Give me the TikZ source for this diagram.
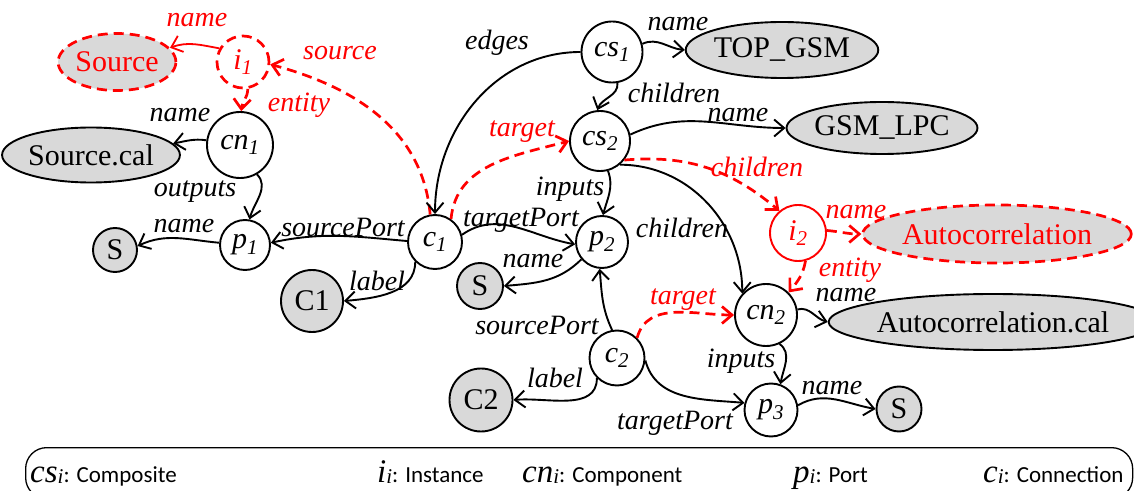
\documentclass[tikz,border=0pt]{standalone}
\usepackage{fontspec}
\setmainfont{Liberation Serif}
\newfontfamily\tnr{Liberation Serif}
\newfontfamily\legfont{Carlito}
\usetikzlibrary{arrows.meta,shapes.geometric}
\definecolor{gfill}{HTML}{D9D9D9}
\newcommand\legitem[2]{{\tnr\fontsize{33}{35}\selectfont\itshape #1}{\tnr\fontsize{21}{22}\selectfont\itshape\raisebox{-1pt}{i}}{\legfont\fontsize{23}{25}\selectfont: #2}}
\begin{document}
\begin{tikzpicture}[x=1pt,y=1pt,
  lbl/.style={font=\tnr\fontsize{28}{30}\selectfont\itshape, inner sep=0pt},
  rlbl/.style={lbl, text=red},
  circ/.style={circle, draw, line width=1.9pt, fill=white, inner sep=0pt, minimum size=#1, font=\tnr\fontsize{30}{32}\selectfont\itshape},
  gcirc/.style={circle, draw, line width=1.9pt, fill=gfill, inner sep=0pt, minimum size=#1, font=\tnr\fontsize{30}{32}\selectfont},
  gell/.style 2 args={ellipse, draw, line width=1.9pt, fill=gfill, inner sep=0pt, minimum width=#1, minimum height=#2, font=\tnr\fontsize{30}{32}\selectfont},
  reddash/.style={draw=red, text=red, line width=2.7pt, dash pattern=on 10pt off 6pt},
  blk/.style={line width=1.9pt, -{Straight Barb[length=10pt,width=17pt]}},
  rs/.style={line width=1.8pt, red, -{Straight Barb[length=10pt,width=17pt]}},
  rd/.style={line width=2.7pt, red, dash pattern=on 10pt off 6pt, -{Straight Barb[length=10pt,width=17pt]}},
]
\clip (0,0) rectangle (1134,490);
% legend
\node (legend) [draw, line width=1.3pt, rounded corners=21pt, minimum width=1107pt, minimum height=51pt, anchor=north west, inner sep=0pt] at (25,43) {};
\node (lg1) [anchor=base west, inner sep=0pt] at (30,8) {\legitem{cs}{Composite}};
\node (lg2) [anchor=base west, inner sep=0pt] at (377,8) {\legitem{i}{Instance}};
\node (lg3) [anchor=base west, inner sep=0pt] at (522,8) {\legitem{cn}{Component}};
\node (lg4) [anchor=base west, inner sep=0pt] at (793,8) {\legitem{p}{Port}};
\node (lg5) [anchor=base west, inner sep=0pt] at (983,8) {\legitem{c}{Connection}};

% nodes
\node (Source) [gell={115}{57}, reddash] at (117,428) {Source};
\node (i1) [circ=52, reddash] at (243,428) {i\textsubscript{1}};
\node (cn1) [circ=66] at (240,345) {cn\textsubscript{1}};
\node (Sourcecal) [gell={162}{55}] at (91,335) {Source.cal};
\node (p1) [circ=50] at (245,245) {p\textsubscript{1}};
\node (S1) [gcirc=44] at (115,240) {S};
\node (c1) [circ=54] at (435,248) {c\textsubscript{1}};
\node (C1) [gcirc=62] at (312,189) {C1};
\node (cs1) [circ=61] at (612,438) {cs\textsubscript{1}};
\node (TOPGSM) [gell={172}{56}] at (782,440) {TOP\_GSM};
\node (cs2) [circ=60] at (600,349) {cs\textsubscript{2}};
\node (GSMLPC) [gell={181}{52}] at (882,362) {GSM\_LPC};
\node (p2) [circ=52] at (602,248) {p\textsubscript{2}};
\node (S2) [gcirc=46] at (480,204) {S};
\node (i2) [circ=56, draw=red, text=red] at (798,257) {i\textsubscript{2}};
\node (Autocorr) [gell={231}{58}, reddash] at (997,256) {Autocorrelation};
\node (cn2) [circ=62] at (766,175) {cn\textsubscript{2}};
\node (Autocal) [gell={282}{56}] at (993,168) {Autocorrelation.cal};
\node (c2) [circ=55] at (617,132) {c\textsubscript{2}};
\node (C2) [gcirc=63] at (481,90) {C2};
\node (p3) [circ=53] at (771,80) {p\textsubscript{3}};
\node (S3) [gcirc=45] at (899,81) {S};

% edges
\draw[rs] (i1.150) to[out=170,in=20] (Source.15);
\draw[rd] (c1.100) to[out=95,in=-15] (i1.-5);
\draw[rd] (i1.-80) to[out=-90,in=85] (cn1.88);
\draw[blk] (cn1.172) to[out=172,in=10] (Sourcecal.8);
\draw[blk] (cn1.-60) to[out=-45,in=75] (p1.80);
\draw[blk] (p1.175) to[out=175,in=25] (S1.10);
\draw[blk] (c1.178) to[out=175,in=12] (p1.5);
\draw[blk] (c1.-135) to[out=-90,in=5] (C1.east);
\draw[blk] (cs1.180) to[out=180,in=90] (c1.90);
\draw[blk] (cs1.15) to[out=25,in=175] (TOPGSM.west);
\draw[blk] (cs1.-80) to[out=-85,in=70] (cs2.95);
\draw[rd] (c1.55) to[out=85,in=195] (cs2.180);
\draw[blk] (cs2.12) to[out=25,in=180] (GSMLPC.west);
\draw[rd] (cs2.-38) to[out=5,in=140] (i2.130);
\draw[blk] (cs2.-50) to[out=0,in=90] (cn2.138);
\draw[blk] (cs2.-75) to[out=-70,in=75] (p2.88);
\draw[blk] (c1.15) to[out=35,in=170] (p2.185);
\draw[blk] (p2.-140) to[out=-135,in=5] (S2.east);
\draw[blk] (c2.100) to[out=115,in=-85] (p2.-95);
\draw[rd] (c2.45) to[out=75,in=180] (cn2.west);
\draw[blk] (c2.-135) to[out=-90,in=5] (C2.east);
\draw[blk] (c2.-5) to[out=-75,in=175] (p3.165);
\draw[rd] (i2.5) to[out=-5,in=180] (Autocorr.west);
\draw[rd] (i2.-75) to[out=-100,in=50] (cn2.45);
\draw[blk] (cn2.10) to[out=15,in=165] (Autocal.west);
\draw[blk] (cn2.-65) to[out=-35,in=80] (p3.70);
\draw[blk] (p3.10) to[out=30,in=170] (S3.west);

% labels
\node (l1) [rlbl] at (197,470) {name};
\node (l2) [rlbl] at (340,437) {source};
\node (l3) [rlbl] at (299,385) {entity};
\node (l4) [lbl] at (180,375) {name};
\node (l5) [lbl] at (195,298) {outputs};
\node (l6) [lbl] at (184,264) {name};
\node (l7) [lbl] at (343,263) {sourcePort};
\node (l8) [lbl] at (377,209) {label};
\node (l9) [lbl] at (497,447) {edges};
\node (l10) [lbl] at (678,466) {name};
\node (l11) [lbl] at (674,397) {children};
\node (l12) [rlbl] at (522,358) {target};
\node (l13) [lbl] at (738,375) {name};
\node (l14) [rlbl] at (757,323) {children};
\node (l15) [lbl] at (570,301) {inputs};
\node (l16) [lbl] at (521,270) {targetPort};
\node (l17) [lbl] at (682,262) {children};
\node (l18) [rlbl] at (856,278) {name};
\node (l19) [rlbl] at (850,220) {entity};
\node (l20) [lbl] at (533,229) {name};
\node (l21) [rlbl] at (683,190) {target};
\node (l22) [lbl] at (846,195) {name};
\node (l23) [lbl] at (537,165) {sourcePort};
\node (l24) [lbl] at (555,112) {label};
\node (l25) [lbl] at (741,129) {inputs};
\node (l26) [lbl] at (832,102) {name};
\node (l27) [lbl] at (675,67) {targetPort};
\end{tikzpicture}
\end{document}
